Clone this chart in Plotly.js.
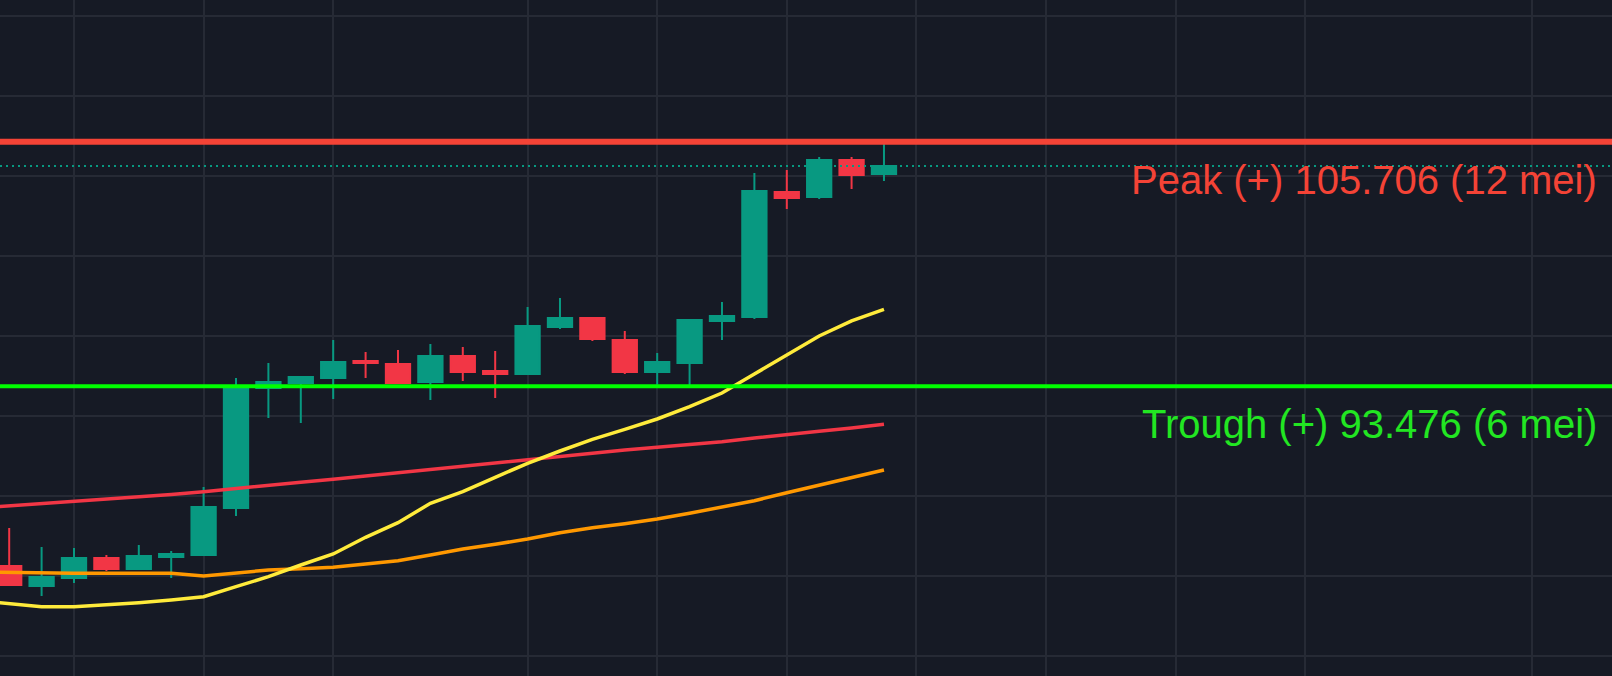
<!DOCTYPE html>
<html>
<head>
<meta charset="utf-8">
<script src="https://cdn.plot.ly/plotly-3.0.1.min.js"></script>
<style>
  html, body { margin: 0; padding: 0; background: #161a25; }
  #chart { width: 1612px; height: 676px; }
</style>
</head>
<body>
<div id="chart"></div>
<script>
// ---- data (daily candles) ----
const dates = [
  '2025-04-15','2025-04-16','2025-04-17','2025-04-18','2025-04-19','2025-04-20','2025-04-21',
  '2025-04-22','2025-04-23','2025-04-24','2025-04-25','2025-04-26','2025-04-27','2025-04-28',
  '2025-04-29','2025-04-30','2025-05-01','2025-05-02','2025-05-03','2025-05-04','2025-05-05',
  '2025-05-06','2025-05-07','2025-05-08','2025-05-09','2025-05-10','2025-05-11','2025-05-12'
];
const open  = [84.49, 83.49, 83.89, 84.89, 84.34, 84.94, 85.04, 87.39, 93.39, 93.64, 93.89, 94.74, 94.59, 93.69,
               94.99, 94.24, 94.09, 96.44, 96.89, 95.79, 94.19, 94.64, 96.74, 96.94, 103.19, 102.94, 104.79, 104.09];
const high  = [86.39, 85.44, 85.39, 85.04, 85.54, 85.24, 88.44, 93.89, 94.64, 93.99, 95.79, 95.19, 95.29, 95.59,
               95.44, 95.24, 97.44, 97.89, 96.89, 96.24, 95.14, 96.84, 97.69, 104.14, 104.29, 104.94, 104.94, 105.706];
const low   = [83.50, 82.99, 83.64, 84.24, 84.29, 83.89, 85.00, 86.99, 91.89, 91.64, 92.84, 93.89, 93.62, 92.79,
               93.74, 92.89, 94.07, 96.34, 95.74, 94.09, 93.55, 93.476, 95.79, 96.84, 102.34, 102.84, 103.34, 103.74];
const close = [83.54, 83.94, 84.89, 84.34, 84.99, 85.09, 87.44, 93.44, 93.69, 93.94, 94.69, 94.64, 93.64, 94.99,
               94.19, 94.09, 96.49, 96.89, 95.84, 94.19, 94.69, 96.79, 96.99, 103.24, 102.89, 104.79, 104.04, 104.49];

// moving averages (one extra day before the first visible candle)
const maDates = ['2025-04-14'].concat(dates);
const maFast = [82.76, 82.61, 82.455, 82.455, 82.54, 82.655, 82.79, 82.955, 83.455, 83.955, 84.54, 85.09, 85.925, 86.655,
                87.625, 88.205, 88.925, 89.625, 90.24, 90.825, 91.325, 91.84, 92.455, 93.14, 94.09, 95.055, 95.99, 96.75, 97.32];
const maMid  = [84.19, 84.165, 84.125, 84.125, 84.125, 84.125, 84.125, 83.99, 84.14, 84.29, 84.355, 84.425, 84.59, 84.755,
                85.04, 85.34, 85.575, 85.84, 86.155, 86.405, 86.605, 86.84, 87.125, 87.425, 87.755, 88.155, 88.54, 88.905, 89.29];
const maSlow = [87.38, 87.49, 87.59, 87.705, 87.815, 87.925, 88.065, 88.205, 88.375, 88.54, 88.68, 88.825, 88.99, 89.155,
                89.325, 89.49, 89.66, 89.825, 89.99, 90.155, 90.29, 90.425, 90.565, 90.705, 90.89, 91.075, 91.225, 91.39, 91.575];

const peakValue = 105.706, peakLabel = 'Peak (+) 105.706 (12 mei)';
const troughValue = 93.476, troughLabel = 'Trough (+) 93.476 (6 mei)';
const lastClose = close[close.length - 1];

const gridDates = ['2025-04-17','2025-04-21','2025-04-25','2025-05-01','2025-05-05','2025-05-09',
                   '2025-05-13','2025-05-17','2025-05-21','2025-05-25','2025-06-01'];

// ---- colours ----
const UP = '#089981', DOWN = '#F23645';

const traces = [
  { type: 'scatter', mode: 'lines', x: maDates, y: maSlow, line: { color: '#F23645', width: 3.5 }, hoverinfo: 'skip' },
  { type: 'scatter', mode: 'lines', x: maDates, y: maMid,  line: { color: '#FF9800', width: 3.5 }, hoverinfo: 'skip' },
  { type: 'scatter', mode: 'lines', x: maDates, y: maFast, line: { color: '#FFEB3B', width: 3.5 }, hoverinfo: 'skip' },
  {
    type: 'candlestick', x: dates, open: open, high: high, low: low, close: close,
    increasing: { line: { color: UP, width: 2 }, fillcolor: UP },
    decreasing: { line: { color: DOWN, width: 2 }, fillcolor: DOWN },
    whiskerwidth: 0
  }
];

const layout = {
  width: 1612, height: 676,
  margin: { l: 0, r: 0, t: 0, b: 0 },
  paper_bgcolor: '#161a25', plot_bgcolor: '#161a25',
  showlegend: false,
  boxgap: 0.25,
  boxgroupgap: 0,
  xaxis: {
    type: 'date',
    range: ['2025-04-14 17:11', '2025-06-03 11:17'],
    tickmode: 'array', tickvals: gridDates, showticklabels: false,
    showgrid: true, gridcolor: '#262a35', gridwidth: 2,
    zeroline: false, showline: false,
    rangeslider: { visible: false }, fixedrange: true
  },
  yaxis: {
    range: [78.99, 112.79],
    tick0: 0, dtick: 4, showticklabels: false,
    showgrid: true, gridcolor: '#262a35', gridwidth: 2,
    zeroline: false, showline: false, fixedrange: true
  },
  shapes: [
    { type: 'line', xref: 'paper', x0: 0, x1: 1, yref: 'y', y0: lastClose, y1: lastClose,
      line: { color: UP, width: 2, dash: '2px,4px' } },
    { type: 'line', xref: 'paper', x0: 0, x1: 1, yref: 'y', y0: peakValue, y1: peakValue,
      line: { color: '#F44336', width: 6 } },
    { type: 'line', xref: 'paper', x0: 0, x1: 1, yref: 'y', y0: troughValue, y1: troughValue,
      line: { color: '#00FF00', width: 4 } }
  ],
  annotations: [
    { xref: 'paper', x: 1, xanchor: 'right', xshift: -13, yref: 'y', y: peakValue, yanchor: 'top', yshift: -14,
      text: peakLabel, showarrow: false, font: { family: 'Liberation Sans, Arial, sans-serif', size: 40, color: '#F44336' } },
    { xref: 'paper', x: 1, xanchor: 'right', xshift: -13, yref: 'y', y: troughValue, yanchor: 'top', yshift: -14,
      text: troughLabel, showarrow: false, font: { family: 'Liberation Sans, Arial, sans-serif', size: 40, color: '#22E622' } }
  ]
};

Plotly.newPlot('chart', traces, layout, { displayModeBar: false, staticPlot: true });
</script>
</body>
</html>
